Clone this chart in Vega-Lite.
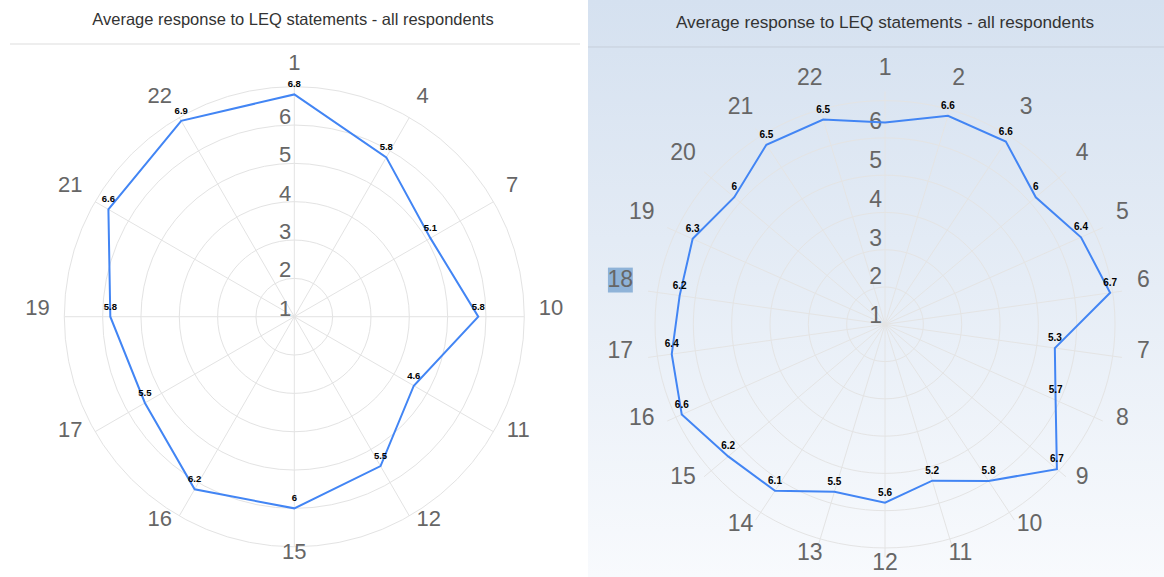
{
  "$schema": "https://vega.github.io/schema/vega-lite/v6.json",
  "padding": 0,
  "background": "#ffffff",
  "spacing": 4,
  "bounds": "flush",
  "config": {"view": {"stroke": null}, "font": "Liberation Sans"},
  "datasets": {
    "left": [
      {"q": 1, "i": 0, "v": 6.8}, {"q": 4, "i": 1, "v": 5.8}, {"q": 7, "i": 2, "v": 5.1},
      {"q": 10, "i": 3, "v": 5.8}, {"q": 11, "i": 4, "v": 4.6}, {"q": 12, "i": 5, "v": 5.5},
      {"q": 15, "i": 6, "v": 6}, {"q": 16, "i": 7, "v": 6.2}, {"q": 17, "i": 8, "v": 5.5},
      {"q": 19, "i": 9, "v": 5.8}, {"q": 21, "i": 10, "v": 6.6}, {"q": 22, "i": 11, "v": 6.9}
    ],
    "right": [
      {"q": 1, "v": 6.2}, {"q": 2, "v": 6.6}, {"q": 3, "v": 6.6}, {"q": 4, "v": 6},
      {"q": 5, "v": 6.4}, {"q": 6, "v": 6.7}, {"q": 7, "v": 5.3}, {"q": 8, "v": 5.7},
      {"q": 9, "v": 6.7}, {"q": 10, "v": 5.8}, {"q": 11, "v": 5.2}, {"q": 12, "v": 5.6},
      {"q": 13, "v": 5.5}, {"q": 14, "v": 6.1}, {"q": 15, "v": 6.2}, {"q": 16, "v": 6.6},
      {"q": 17, "v": 6.4}, {"q": 18, "v": 6.2}, {"q": 19, "v": 6.3}, {"q": 20, "v": 6},
      {"q": 21, "v": 6.5}, {"q": 22, "v": 6.5}
    ],
    "levels": [{"level": 1}, {"level": 2}, {"level": 3}, {"level": 4}, {"level": 5}, {"level": 6}, {"level": 7}],
    "titles": [{"t": "Average response to LEQ statements - all respondents"}]
  },
  "hconcat": [
    {
      "width": 584,
      "height": 577,
      "layer": [
        {
          "data": {"name": "titles"},
          "transform": [
            {"calculate": "-7.417", "as": "fx1"},
            {"calculate": "7.454", "as": "fx2"},
            {"calculate": "7.115", "as": "fy"}
          ],
          "mark": {"type": "rule", "color": "#dddddd", "strokeWidth": 1},
          "encoding": {
            "x": {"field": "fx1", "type": "quantitative", "scale": {"domain": [-7.678, 7.558], "nice": false, "zero": false}, "axis": null},
            "x2": {"field": "fx2"},
            "y": {"field": "fy", "type": "quantitative", "scale": {"domain": [-6.791, 8.263], "nice": false, "zero": false}, "axis": null}
          }
        },
        {
          "data": {"name": "titles"},
          "transform": [
            {"calculate": "-0.034", "as": "tx"},
            {"calculate": "7.61", "as": "ty"}
          ],
          "mark": {"type": "text", "align": "center", "baseline": "alphabetic", "fontSize": 16.5, "color": "#333333"},
          "encoding": {
            "x": {"field": "tx", "type": "quantitative", "axis": null},
            "y": {"field": "ty", "type": "quantitative", "axis": null},
            "text": {"field": "t"}
          }
        },
        {
          "data": {"name": "levels"},
          "transform": [{"filter": "datum.level >= 2"}, {"calculate": "datum.level - 1", "as": "rad"}, {"calculate": "0", "as": "c"}],
          "mark": {"type": "point", "shape": "circle", "filled": false, "color": "#e3e3e3", "opacity": 1, "strokeWidth": 1},
          "encoding": {
            "x": {"field": "c", "type": "quantitative", "axis": null},
            "y": {"field": "c", "type": "quantitative", "axis": null},
            "size": {"field": "rad", "type": "quantitative", "scale": {"type": "pow", "exponent": 2, "domain": [0, 6], "range": [0, 211600], "zero": true}, "legend": null}
          }
        },
        {
          "data": {"name": "left"},
          "transform": [
            {"calculate": "datum.i * 2 * PI / 12", "as": "a"},
            {"calculate": "0", "as": "c"},
            {"calculate": "6 * sin(datum.a)", "as": "sx"},
            {"calculate": "6 * cos(datum.a)", "as": "sy"}
          ],
          "mark": {"type": "rule", "color": "#e3e3e3", "strokeWidth": 1},
          "encoding": {
            "x": {"field": "c", "type": "quantitative", "axis": null},
            "y": {"field": "c", "type": "quantitative", "axis": null},
            "x2": {"field": "sx"},
            "y2": {"field": "sy"}
          }
        },
        {
          "data": {"name": "levels"},
          "transform": [{"filter": "datum.level <= 6"}, {"calculate": "datum.level - 1", "as": "rad"}, {"calculate": "0", "as": "c"}],
          "mark": {"type": "text", "align": "right", "baseline": "alphabetic", "dx": -3, "dy": -1, "fontSize": 22, "color": "#666666"},
          "encoding": {
            "x": {"field": "c", "type": "quantitative", "axis": null},
            "y": {"field": "rad", "type": "quantitative", "axis": null},
            "text": {"field": "level", "type": "quantitative"}
          }
        },
        {
          "data": {"name": "left"},
          "transform": [
            {"calculate": "datum.i * 2 * PI / 12", "as": "a"},
            {"calculate": "(datum.v - 1) * sin(datum.a)", "as": "px"},
            {"calculate": "(datum.v - 1) * cos(datum.a)", "as": "py"}
          ],
          "mark": {"type": "line", "interpolate": "linear-closed", "color": "#4285f4", "strokeWidth": 2},
          "encoding": {
            "x": {"field": "px", "type": "quantitative", "axis": null},
            "y": {"field": "py", "type": "quantitative", "axis": null},
            "order": {"field": "i", "type": "quantitative"}
          }
        },
        {
          "data": {"name": "left"},
          "transform": [
            {"calculate": "datum.i * 2 * PI / 12", "as": "a"},
            {"calculate": "(datum.v - 1) * sin(datum.a)", "as": "px"},
            {"calculate": "(datum.v - 1) * cos(datum.a)", "as": "py"}
          ],
          "mark": {"type": "text", "align": "center", "baseline": "middle", "dy": -10, "fontSize": 9.5, "fontWeight": "bold", "color": "#000000"},
          "encoding": {
            "x": {"field": "px", "type": "quantitative", "axis": null},
            "y": {"field": "py", "type": "quantitative", "axis": null},
            "text": {"field": "v", "type": "quantitative"}
          }
        },
        {
          "data": {"name": "left"},
          "transform": [
            {"calculate": "datum.i * 2 * PI / 12", "as": "a"},
            {"calculate": "sin(datum.a) * 6.38 + (sin(datum.a) > 0.01 ? 1 : (sin(datum.a) < -0.01 ? -1 : 0)) * min(1, 2 * abs(sin(datum.a))) * length(toString(datum.q)) * 6.1 / 38.33", "as": "lx"},
            {"calculate": "cos(datum.a) * 6.38", "as": "ly"}
          ],
          "mark": {"type": "text", "align": "center", "baseline": "middle", "dy": -9, "fontSize": 22, "color": "#666666"},
          "encoding": {
            "x": {"field": "lx", "type": "quantitative", "axis": null},
            "y": {"field": "ly", "type": "quantitative", "axis": null},
            "text": {"field": "q", "type": "quantitative"}
          }
        }
      ]
    },
    {
      "width": 576,
      "height": 577,
      "layer": [
        {
          "data": {"name": "titles"},
          "transform": [
            {"calculate": "-7.444", "as": "bx1"},
            {"calculate": "6.992", "as": "bx2"},
            {"calculate": "-6.513", "as": "by1"},
            {"calculate": "8.358", "as": "by2"}
          ],
          "mark": {"type": "rect", "color": {"gradient": "linear", "x1": 0, "y1": 0, "x2": 0, "y2": 1, "stops": [{"offset": 0, "color": "#d5e1f0"}, {"offset": 0.5, "color": "#e6edf6"}, {"offset": 1, "color": "#f8fafd"}]}},
          "encoding": {
            "x": {"field": "bx1", "type": "quantitative", "scale": {"domain": [-7.444, 6.992], "nice": false, "zero": false}, "axis": null},
            "x2": {"field": "bx2"},
            "y": {"field": "by1", "type": "quantitative", "scale": {"domain": [-6.513, 8.358], "nice": false, "zero": false}, "axis": null},
            "y2": {"field": "by2"}
          }
        },
        {
          "data": {"name": "titles"},
          "transform": [
            {"calculate": "-7.444", "as": "fx1"},
            {"calculate": "6.992", "as": "fx2"},
            {"calculate": "7.147", "as": "fy"}
          ],
          "mark": {"type": "rule", "color": "#c6ceda", "strokeWidth": 1},
          "encoding": {
            "x": {"field": "fx1", "type": "quantitative", "axis": null},
            "x2": {"field": "fx2"},
            "y": {"field": "fy", "type": "quantitative", "axis": null}
          }
        },
        {
          "data": {"name": "titles"},
          "transform": [
            {"calculate": "0", "as": "tx"},
            {"calculate": "7.637", "as": "ty"}
          ],
          "mark": {"type": "text", "align": "center", "baseline": "alphabetic", "fontSize": 17.2, "color": "#333333"},
          "encoding": {
            "x": {"field": "tx", "type": "quantitative", "axis": null},
            "y": {"field": "ty", "type": "quantitative", "axis": null},
            "text": {"field": "t"}
          }
        },
        {
          "data": {"name": "levels"},
          "transform": [{"filter": "datum.level >= 2"}, {"calculate": "datum.level - 1", "as": "rad"}, {"calculate": "0", "as": "c"}],
          "mark": {"type": "point", "shape": "M -1 0 A 1 0.9724 0 1 1 1 0 A 1 0.9724 0 1 1 -1 0 Z", "filled": false, "color": "#e4e4e4", "opacity": 1, "strokeWidth": 1},
          "encoding": {
            "x": {"field": "c", "type": "quantitative", "axis": null},
            "y": {"field": "c", "type": "quantitative", "axis": null},
            "size": {"field": "rad", "type": "quantitative", "scale": {"type": "pow", "exponent": 2, "domain": [0, 6], "range": [0, 229250], "zero": true}, "legend": null}
          }
        },
        {
          "data": {"name": "right"},
          "transform": [
            {"calculate": "(datum.q - 1) * 2 * PI / 22", "as": "a"},
            {"calculate": "0", "as": "c"},
            {"calculate": "6 * sin(datum.a)", "as": "sx"},
            {"calculate": "6 * cos(datum.a)", "as": "sy"}
          ],
          "mark": {"type": "rule", "color": "#e4e4e4", "strokeWidth": 1},
          "encoding": {
            "x": {"field": "c", "type": "quantitative", "axis": null},
            "y": {"field": "c", "type": "quantitative", "axis": null},
            "x2": {"field": "sx"},
            "y2": {"field": "sy"}
          }
        },
        {
          "data": {"name": "levels"},
          "transform": [{"filter": "datum.level <= 6"}, {"calculate": "datum.level - 1", "as": "rad"}, {"calculate": "0", "as": "c"}],
          "mark": {"type": "text", "align": "right", "baseline": "alphabetic", "dx": -3, "dy": -1, "fontSize": 23, "color": "#666666"},
          "encoding": {
            "x": {"field": "c", "type": "quantitative", "axis": null},
            "y": {"field": "rad", "type": "quantitative", "axis": null},
            "text": {"field": "level", "type": "quantitative"}
          }
        },
        {
          "data": {"name": "right"},
          "transform": [
            {"calculate": "(datum.q - 1) * 2 * PI / 22", "as": "a"},
            {"calculate": "(datum.v - 1) * sin(datum.a)", "as": "px"},
            {"calculate": "(datum.v - 1) * cos(datum.a)", "as": "py"}
          ],
          "mark": {"type": "line", "interpolate": "linear-closed", "color": "#4285f4", "strokeWidth": 2},
          "encoding": {
            "x": {"field": "px", "type": "quantitative", "axis": null},
            "y": {"field": "py", "type": "quantitative", "axis": null},
            "order": {"field": "q", "type": "quantitative"}
          }
        },
        {
          "data": {"name": "right"},
          "transform": [
            {"filter": "datum.q != 1"},
            {"calculate": "(datum.q - 1) * 2 * PI / 22", "as": "a"},
            {"calculate": "(datum.v - 1) * sin(datum.a)", "as": "px"},
            {"calculate": "(datum.v - 1) * cos(datum.a)", "as": "py"}
          ],
          "mark": {"type": "text", "align": "center", "baseline": "middle", "dy": -10, "fontSize": 10, "fontWeight": "bold", "color": "#000000"},
          "encoding": {
            "x": {"field": "px", "type": "quantitative", "axis": null},
            "y": {"field": "py", "type": "quantitative", "axis": null},
            "text": {"field": "v", "type": "quantitative"}
          }
        },
        {
          "data": {"name": "right"},
          "transform": [
            {"filter": "datum.q == 18"},
            {"calculate": "(datum.q - 1) * 2 * PI / 22", "as": "a"},
            {"calculate": "sin(datum.a) * (6.38 + length(toString(datum.q)) * 6.4 / 39.9)", "as": "lx"},
            {"calculate": "cos(datum.a) * 6.38", "as": "ly"}
          ],
          "mark": {"type": "point", "shape": "square", "filled": true, "color": "#8fb3d8", "opacity": 1, "size": 620, "yOffset": -9},
          "encoding": {
            "x": {"field": "lx", "type": "quantitative", "axis": null},
            "y": {"field": "ly", "type": "quantitative", "axis": null}
          }
        },
        {
          "data": {"name": "right"},
          "transform": [
            {"calculate": "(datum.q - 1) * 2 * PI / 22", "as": "a"},
            {"calculate": "sin(datum.a) * (6.38 + length(toString(datum.q)) * 6.4 / 39.9)", "as": "lx"},
            {"calculate": "cos(datum.a) * 6.38", "as": "ly"}
          ],
          "mark": {"type": "text", "align": "center", "baseline": "middle", "dy": -9, "fontSize": 23, "color": "#666666"},
          "encoding": {
            "x": {"field": "lx", "type": "quantitative", "axis": null},
            "y": {"field": "ly", "type": "quantitative", "axis": null},
            "text": {"field": "q", "type": "quantitative"}
          }
        }
      ]
    }
  ]
}
